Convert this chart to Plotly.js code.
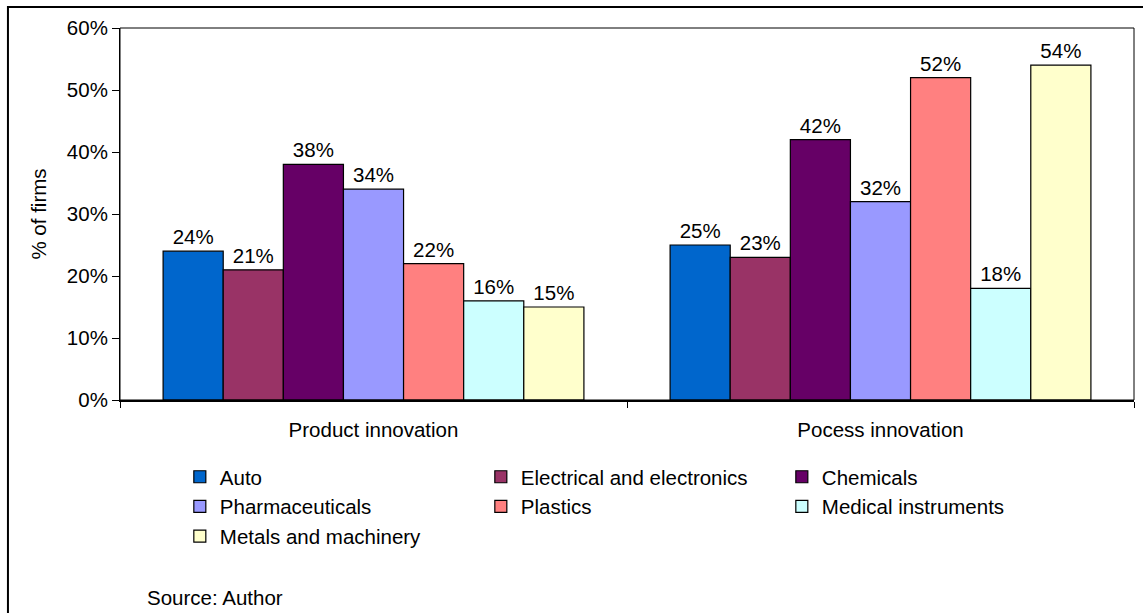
<!DOCTYPE html>
<html>
<head>
<meta charset="utf-8">
<script src="https://cdn.plot.ly/plotly-3.0.1.min.js"></script>
<style>
  html, body { margin: 0; padding: 0; background: #fff; }
  #chart { width: 1143px; height: 613px; }
</style>
</head>
<body>
<div id="chart"></div>
<script>
const categories = ["Product innovation", "Pocess innovation"];
const industries = ["Auto", "Electrical and electronics", "Chemicals", "Pharmaceuticals", "Plastics", "Medical instruments", "Metals and machinery"];
const autoVals = [24, 25];
const electricalVals = [21, 23];
const chemicalsVals = [38, 42];
const pharmaVals = [34, 32];
const plasticsVals = [22, 52];
const medicalVals = [16, 18];
const metalsVals = [15, 54];
const seriesValues = [autoVals, electricalVals, chemicalsVals, pharmaVals, plasticsVals, medicalVals, metalsVals];
const colors = ["#0066CC", "#993366", "#660066", "#9999FF", "#FF8080", "#CCFFFF", "#FFFFCC"];
const yTickVals = [0, 10, 20, 30, 40, 50, 60];
const yTickText = ["0%", "10%", "20%", "30%", "40%", "50%", "60%"];

const FONT = "Arial, 'Liberation Sans', sans-serif";
const FS = 20.5;

const traces = industries.map((name, i) => ({
  type: "bar",
  name: name,
  x: categories,
  y: seriesValues[i],
  text: seriesValues[i].map(v => v + "%"),
  textposition: "outside",
  textfont: { family: FONT, size: FS, color: "#000" },
  cliponaxis: false,
  marker: { color: colors[i], line: { color: "#000", width: 1.2 } },
  hoverinfo: "skip"
}));

const layout = {
  width: 1143,
  height: 613,
  margin: { l: 120, r: 9, t: 28, b: 213 },
  paper_bgcolor: "#fff",
  plot_bgcolor: "#fff",
  font: { family: FONT, size: FS, color: "#000" },
  barmode: "group",
  bargap: 0.17,
  bargroupgap: 0,
  showlegend: true,
  legend: {
    orientation: "h",
    x: 0.059, xanchor: "left",
    y: -0.153, yanchor: "top",
    entrywidth: 256,
    entrywidthmode: "pixels",
    itemwidth: 30,
    traceorder: "normal",
    font: { family: FONT, size: FS, color: "#000" },
    bgcolor: "rgba(0,0,0,0)"
  },
  xaxis: {
    type: "category",
    showline: true, linecolor: "#000", linewidth: 2,
    ticks: "outside", tickson: "boundaries", ticklen: 6, tickcolor: "#000", tickwidth: 1,
    ticklabelstandoff: 10,
    showgrid: false, zeroline: false,
    tickfont: { family: FONT, size: FS, color: "#000" }
  },
  yaxis: {
    range: [0, 60],
    tickvals: yTickVals, ticktext: yTickText,
    showline: true, linecolor: "#000", linewidth: 1,
    ticks: "outside", ticklen: 7, tickcolor: "#000",
    showgrid: false, zeroline: false,
    tickfont: { family: FONT, size: FS, color: "#000" },
    title: { text: "% of firms", font: { family: FONT, size: FS, color: "#000" }, standoff: 14 }
  },
  shapes: [
    { type: "rect", xref: "paper", yref: "paper", x0: 0, x1: 1, y0: 0, y1: 1,
      line: { color: "#000", width: 1 }, fillcolor: "rgba(0,0,0,0)" },
    { type: "rect", xref: "paper", yref: "paper", x0: -0.1105, x1: 1.05, y0: -0.6, y1: 1.0565,
      line: { color: "#000", width: 2 }, fillcolor: "rgba(0,0,0,0)", layer: "below" }
  ],
  annotations: [
    { text: "Source: Author", xref: "paper", yref: "paper", x: 0.0247, y: -0.532,
      xanchor: "left", yanchor: "middle", showarrow: false,
      font: { family: FONT, size: FS, color: "#000" } }
  ]
};

Plotly.newPlot("chart", traces, layout, { displayModeBar: false, staticPlot: true });
</script>
</body>
</html>
